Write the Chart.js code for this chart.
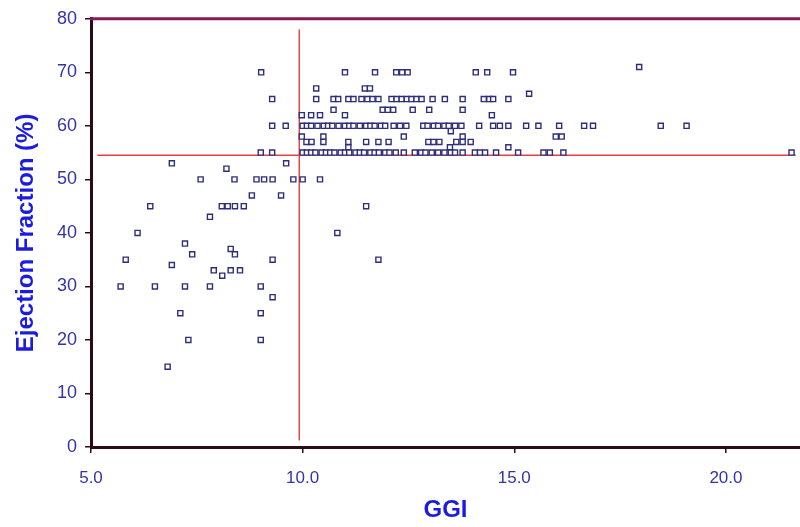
<!DOCTYPE html>
<html>
<head>
<meta charset="utf-8">
<script src="https://cdn.jsdelivr.net/npm/chart.js@4/dist/chart.umd.min.js"></script>
<style>
  html, body { margin: 0; padding: 0; background: #ffffff; }
  #wrap { width: 800px; height: 527px; position: relative; }
</style>
</head>
<body>
<div id="wrap"><canvas id="c" width="800" height="527"></canvas></div>
<script>
// ---- data ----
const ggi = [
  // left of the GGI cut-off
  6.91, 8.20, 9.61, 7.59, 8.39, 8.91, 9.09, 9.29, 9.78, 10.00, 10.41, 8.80, 9.49,
  6.40, 8.09, 8.23, 8.40, 8.61, 7.81, 6.10, 7.22, 8.30, 8.40, 7.39, 5.82, 9.29,
  6.91, 7.90, 8.10, 8.30, 8.52, 5.70, 6.51, 7.22, 7.81, 9.01, 9.29, 7.11, 9.01,
  7.30, 9.01, 6.81, 9.01, 9.28, 9.02, 9.28, 9.28, 9.60, 11.50, 10.82, 11.79,
  // EF 70/71
  11.00, 11.71, 12.21, 12.35, 12.48, 14.09, 14.36, 14.97, 17.95,
  // EF 67 / 66
  10.32, 11.47, 11.59, 15.35,
  // EF 65
  10.32, 10.73, 10.84, 11.08, 11.20, 11.39, 11.53, 11.65, 11.79, 12.10, 12.22, 12.34,
  12.46, 12.57, 12.69, 12.81, 13.07, 13.36, 13.78, 14.28, 14.41, 14.50, 14.86,
  // EF 63
  10.73, 11.89, 12.01, 12.14, 12.60, 12.99, 13.78,
  // EF 62
  9.98, 10.20, 10.41, 11.00, 14.47,
  // EF 60
  10.00, 10.10, 10.20, 10.35, 10.50, 10.60, 10.70, 10.85, 11.00, 11.10, 11.20, 11.35,
  11.50, 11.60, 11.70, 11.85, 11.95, 12.15, 12.30, 12.45, 12.85, 12.95, 13.10, 13.20,
  13.35, 13.45, 13.60, 13.75, 14.17, 14.50, 14.66, 14.86, 15.28, 15.57, 16.06, 16.65,
  16.86, 18.46, 19.07,
  // EF 59
  13.50,
  // EF 58
  9.98, 10.49, 12.39, 13.78, 15.98, 16.12,
  // EF 57
  10.09, 10.21, 10.49, 11.08, 11.50, 11.79, 12.03, 12.97, 13.09, 13.23, 13.63, 13.78, 13.97,
  // EF 56
  11.08, 13.48, 14.86,
  // EF 55
  10.00, 10.10, 10.20, 10.30, 10.45, 10.55, 10.65, 10.75, 10.90, 11.00, 11.10, 11.25,
  11.35, 11.45, 11.60, 11.70, 11.80, 11.95, 12.05, 12.20, 12.39, 12.65, 12.80, 12.90,
  13.05, 13.20, 13.35, 13.50, 13.60, 13.78, 14.07, 14.19, 14.31, 14.57, 15.09, 15.69,
  15.84, 16.16, 21.55
];
const ef = [
  53, 52, 53, 50, 50, 50, 50, 50, 50, 50, 50, 47, 47,
  45, 45, 45, 45, 45, 43, 40, 38, 37, 36, 36, 35, 35,
  34, 33, 32, 33, 33, 30, 30, 30, 30, 30, 28, 25, 25,
  20, 20, 15, 55, 55, 70, 65, 60, 60, 45, 40, 35,
  70, 70, 70, 70, 70, 70, 70, 70, 71,
  67, 67, 67, 66,
  65, 65, 65, 65, 65, 65, 65, 65, 65, 65, 65, 65,
  65, 65, 65, 65, 65, 65, 65, 65, 65, 65, 65,
  63, 63, 63, 63, 63, 63, 63,
  62, 62, 62, 62, 62,
  60, 60, 60, 60, 60, 60, 60, 60, 60, 60, 60, 60,
  60, 60, 60, 60, 60, 60, 60, 60, 60, 60, 60, 60,
  60, 60, 60, 60, 60, 60, 60, 60, 60, 60, 60, 60,
  60, 60, 60,
  59,
  58, 58, 58, 58, 58, 58,
  57, 57, 57, 57, 57, 57, 57, 57, 57, 57, 57, 57, 57,
  56, 56, 56,
  55, 55, 55, 55, 55, 55, 55, 55, 55, 55, 55, 55,
  55, 55, 55, 55, 55, 55, 55, 55, 55, 55, 55, 55,
  55, 55, 55, 55, 55, 55, 55, 55, 55, 55, 55, 55,
  55, 55, 55
];
// reference (cut-off) lines
const cutGGI = 9.92;          // vertical line
const cutGGIRange = [1.2, 78]; // its EF extent
const cutEF = 54.5;           // horizontal line
const cutEFRange = [5.15, 21.65]; // its GGI extent
// axes
const xTickValues = [5, 10, 15, 20];
const xRange = [5, 21.75];
const yRange = [0, 80];
const xTitle = 'GGI';
const yTitle = 'Ejection Fraction (%)';

// ---- build ----
const points = ggi.map((g, i) => ({ x: g, y: ef[i] }));
const vLine = cutGGIRange.map(v => ({ x: cutGGI, y: v }));
const hLine = cutEFRange.map(v => ({ x: v, y: cutEF }));

const FONT = "'Liberation Sans', Arial, sans-serif";
const tickBlue = '#3434a4';
const titleBlue = '#1c1ce0';
const axisDark = '#2c0a18';

const topBorder = {
  id: 'topBorder',
  afterDraw(chart) {
    const { ctx, chartArea } = chart;
    ctx.save();
    ctx.strokeStyle = '#8a1a4e';
    ctx.lineWidth = 3;
    ctx.beginPath();
    ctx.moveTo(chartArea.left - 1, chartArea.top);
    ctx.lineTo(chartArea.right, chartArea.top);
    ctx.stroke();
    ctx.restore();
  }
};

new Chart(document.getElementById('c'), {
  type: 'scatter',
  data: {
    datasets: [
      {
        label: 'patients',
        data: points,
        pointStyle: 'rect',
        pointRadius: 3.6,
        pointHoverRadius: 3.6,
        borderColor: '#2e2e7c',
        backgroundColor: 'rgba(255,255,255,0.9)',
        pointBorderWidth: 1.4
      },
      {
        label: 'GGI cut-off',
        data: vLine,
        showLine: true,
        pointRadius: 0,
        borderColor: '#e04848',
        borderWidth: 1.5
      },
      {
        label: 'EF cut-off',
        data: hLine,
        showLine: true,
        pointRadius: 0,
        borderColor: '#e84040',
        borderWidth: 1.5
      }
    ]
  },
  options: {
    responsive: false,
    animation: false,
    layout: { autoPadding: false, padding: { top: 16, right: 0, left: 0, bottom: 0 } },
    plugins: { legend: { display: false }, tooltip: { enabled: false } },
    scales: {
      x: {
        type: 'linear',
        min: xRange[0],
        max: xRange[1],
        afterBuildTicks(scale) { scale.ticks = xTickValues.map(v => ({ value: v })); },
        afterFit(scale) { scale.height = 80; scale.paddingLeft = 0; scale.paddingRight = 0; },
        grid: { drawOnChartArea: false, drawTicks: true, tickLength: 6, color: axisDark, lineWidth: 1.5 },
        border: { display: true, color: axisDark, width: 3 },
        ticks: {
          color: tickBlue,
          font: { family: FONT, size: 17 },
          padding: 15,
          callback: v => Number(v).toFixed(1)
        },
        title: {
          display: true,
          text: xTitle,
          color: titleBlue,
          font: { family: FONT, size: 24, weight: 'bold' },
          padding: { top: 0, bottom: 2 }
        }
      },
      y: {
        type: 'linear',
        min: yRange[0],
        max: yRange[1],
        afterFit(scale) { scale.width = 91; },
        grid: { drawOnChartArea: false, drawTicks: true, tickLength: 6, color: axisDark, lineWidth: 1.5 },
        border: { display: true, color: axisDark, width: 3 },
        ticks: {
          stepSize: 10,
          color: tickBlue,
          font: { family: FONT, size: 18 },
          padding: 8
        },
        title: {
          display: true,
          text: yTitle,
          color: titleBlue,
          font: { family: FONT, size: 24, weight: 'bold' },
          padding: { top: 12, bottom: 0 }
        }
      }
    }
  },
  plugins: [topBorder]
});
</script>
</body>
</html>
